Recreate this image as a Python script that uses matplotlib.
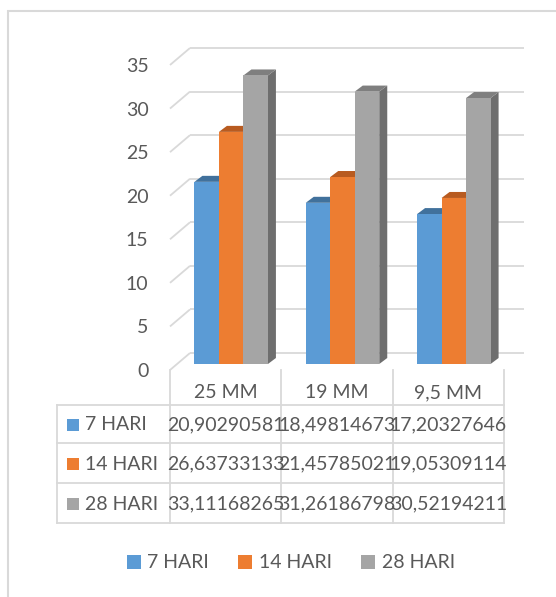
import matplotlib
matplotlib.use("Agg")
import matplotlib.pyplot as plt
from matplotlib.patches import Polygon, Patch, Rectangle

# ---- data ----
categories = ["25 MM", "19 MM", "9,5 MM"]
series_names = ["7 HARI", "14 HARI", "28 HARI"]
hari_7 = [20.90290581, 18.49814673, 17.20327646]
hari_14 = [26.63733133, 21.45785021, 19.05309114]
hari_28 = [33.11168265, 31.26186798, 30.52194211]
y_ticks = [0, 5, 10, 15, 20, 25, 30, 35]

series = [hari_7, hari_14, hari_28]

# ---- styling ----
front_colors = ["#5B9BD5", "#ED7D31", "#A5A5A5"]
top_colors = ["#41719C", "#B85B20", "#7F7F7F"]
side_colors = ["#3E6C96", "#AE5620", "#6E6E6E"]
text_color = "#595959"
grid_color = "#D9D9D9"
FS = 14

plt.rcParams['font.family'] = ['Lato', 'DejaVu Sans']

W, H = 556, 597
fig = plt.figure(figsize=(W / 100, H / 100), dpi=100)


def fx(px):
    return px / W


def fy(py):
    return 1 - py / H


# front plane of the 3-D plot area (pixels)
PL, PR, P0, P35 = 170, 504, 370, 65
ax = fig.add_axes([fx(PL), fy(P0), fx(PR) - fx(PL), fy(P35) - fy(P0)])
ax.set_xlim(-0.5, len(categories) - 0.5)
ax.set_ylim(y_ticks[0], y_ticks[-1])
ax.patch.set_visible(False)
for s in ax.spines.values():
    s.set_visible(False)
ax.set_xticks([])
ax.set_yticks(y_ticks)
ax.set_yticklabels([str(t) for t in y_ticks], fontsize=FS, color=text_color)
ax.tick_params(axis='y', length=0, pad=15.5)

ux = (PR - PL) / len(categories)          # pixels per x unit
uy = (P0 - P35) / (y_ticks[-1] - y_ticks[0])  # pixels per y unit

# walls: side wall diagonals and back wall gridlines
wall_dx, wall_dy = 20 / ux, 17 / uy
x_left, x_right = -0.5, len(categories) - 0.5
for t in y_ticks:
    ax.plot([x_left, x_left + wall_dx], [t, t + wall_dy], color=grid_color,
            lw=1.3, clip_on=False, zorder=1, solid_capstyle='butt')
    ax.plot([x_left + wall_dx, x_right + wall_dx], [t + wall_dy] * 2,
            color=grid_color, lw=1.3, clip_on=False, zorder=1,
            solid_capstyle='butt')

# 3-D columns
bw = 24.5 / ux                # column width
sx, sy = 5.5 / ux, 6.0 / uy   # column row sits partway into the depth
bdx, bdy = 8 / ux, 6 / uy     # depth of each column

for j, vals in enumerate(series):
    xs = [i + sx + (j - 1) * bw for i in range(len(categories))]
    z = 3 + 3 * j
    ax.bar(xs, vals, width=bw, bottom=sy, color=front_colors[j],
           zorder=z + 2, clip_on=False, linewidth=0)
    for xc, v in zip(xs, vals):
        x0, x1 = xc - bw / 2, xc + bw / 2
        top = v + sy
        ax.add_patch(Polygon([(x0, top), (x1, top), (x1 + bdx, top + bdy),
                              (x0 + bdx, top + bdy)], closed=True,
                             facecolor=top_colors[j], edgecolor='none',
                             zorder=z + 1, clip_on=False))
        ax.add_patch(Polygon([(x1, sy), (x1, top), (x1 + bdx, top + bdy),
                              (x1 + bdx, sy + bdy)], closed=True,
                             facecolor=side_colors[j], edgecolor='none',
                             zorder=z, clip_on=False))

# ---- overlay in pixel coordinates: frame, data table ----
bg = fig.add_axes([0, 0, 1, 1], zorder=-1)
bg.set_xlim(0, W)
bg.set_ylim(H, 0)
bg.axis('off')

bg.plot([7.5, 7.5], [10, H], color=grid_color, lw=1.5, solid_capstyle='butt')
bg.plot([7, W], [10.5, 10.5], color=grid_color, lw=1.5, solid_capstyle='butt')

col_edges = [PL + k * ux for k in range(len(categories) + 1)]
col_centers = [PL + (k + 0.5) * ux for k in range(len(categories))]
row_edges = [405, 443, 483, 523]
key_left = 57
header_y = 393

for x in col_edges:
    bg.plot([x, x], [P0, row_edges[-1]], color=grid_color, lw=1.3)
bg.plot([key_left, key_left], [row_edges[0], row_edges[-1]],
        color=grid_color, lw=1.3)
for y in row_edges:
    bg.plot([key_left, col_edges[-1]], [y, y], color=grid_color, lw=1.3)

for xc, cat in zip(col_centers, categories):
    bg.text(xc, header_y, cat, ha='center', va='center', fontsize=FS,
            color=text_color)

for r, (name, vals) in enumerate(zip(series_names, series)):
    yc = (row_edges[r] + row_edges[r + 1]) / 2 + 1
    bg.add_patch(Rectangle((67, yc - 6), 12, 12, facecolor=front_colors[r],
                           edgecolor='none'))
    bg.text(85, yc, name, ha='left', va='center', fontsize=FS,
            color=text_color)
    for xc, v in zip(col_centers, vals):
        label = f"{v:.8f}".replace('.', ',')
        bg.text(xc, yc, label, ha='center', va='center', fontsize=FS,
                color=text_color)

# ---- legend ----
handles = [Patch(facecolor=c, edgecolor='none') for c in front_colors]
leg = fig.legend(handles, series_names, loc='center',
                 bbox_to_anchor=(fx(291), fy(563)), ncol=3, frameon=False,
                 fontsize=FS, handlelength=0.72, handleheight=0.72,
                 handletextpad=0.35, columnspacing=1.5)
for t in leg.get_texts():
    t.set_color(text_color)

fig.savefig("out.png", dpi=100)
